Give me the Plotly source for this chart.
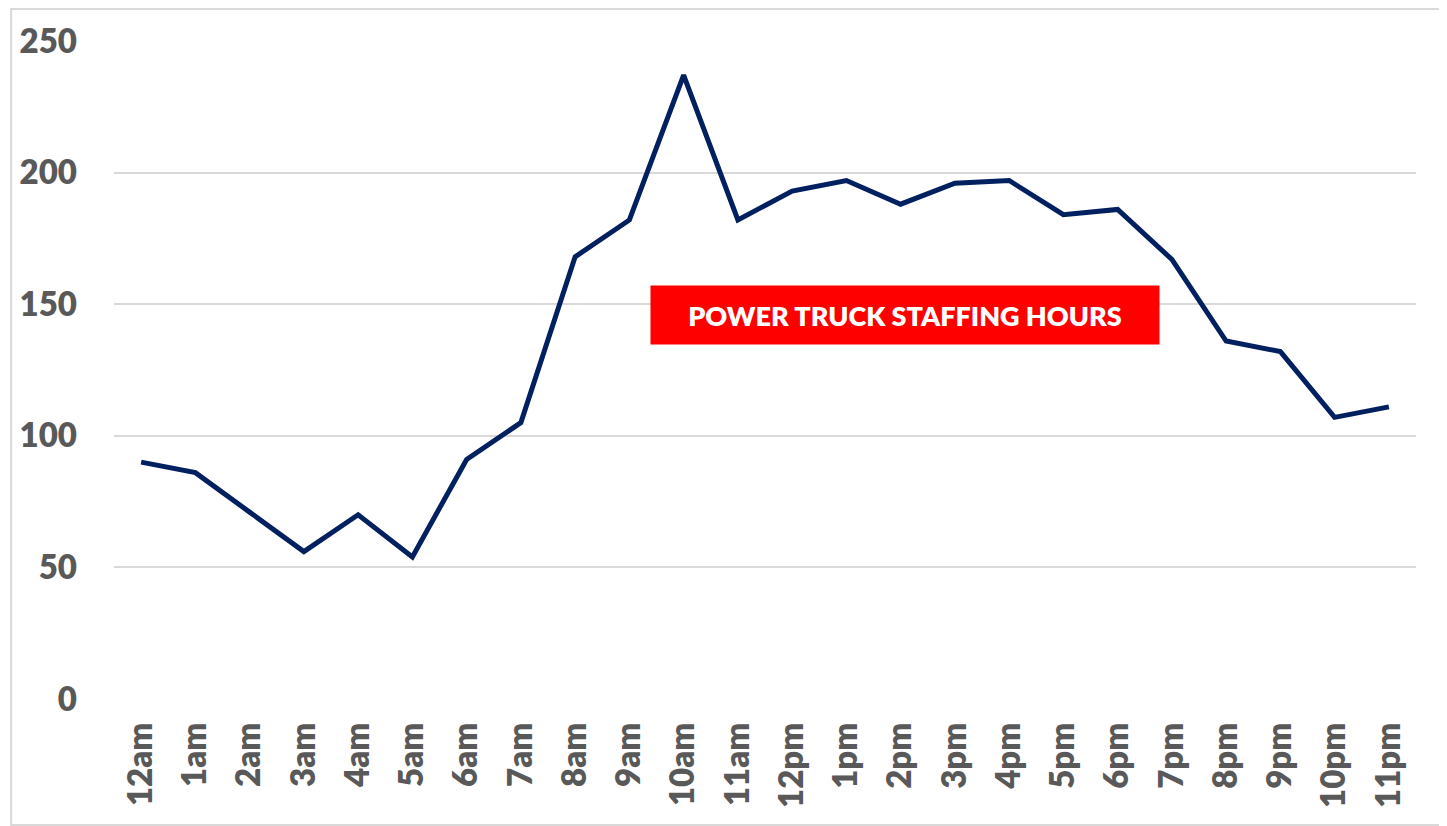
import plotly.graph_objects as go

hours = ["12am", "1am", "2am", "3am", "4am", "5am", "6am", "7am", "8am", "9am", "10am", "11am",
         "12pm", "1pm", "2pm", "3pm", "4pm", "5pm", "6pm", "7pm", "8pm", "9pm", "10pm", "11pm"]
staffing_hours = [90, 86, 71, 56, 70, 54, 91, 105, 168, 182, 237, 182,
                  193, 197, 188, 196, 197, 184, 186, 167, 136, 132, 107, 111]
y_ticks = [0, 50, 100, 150, 200, 250]
label_text = "POWER TRUCK STAFFING HOURS"

FONT = "Lato"
TXT = "#595959"

# page places the figure at (8, 8)
W, H = 1439, 818
L, T, R, B = 104, 33, 31, 127
PW, PH = W - L - R, H - T - B

fig = go.Figure()
fig.add_trace(go.Scatter(
    x=list(range(len(hours))), y=staffing_hours, mode="lines",
    line=dict(color="#002060", width=5), hoverinfo="skip", showlegend=False,
))

fig.update_layout(
    width=W, height=H,
    margin=dict(l=L, r=R, t=T, b=B),
    paper_bgcolor="white", plot_bgcolor="white",
    font=dict(family=FONT, color=TXT),
    xaxis=dict(
        range=[-0.5, len(hours) - 0.5], tickmode="array",
        tickvals=list(range(len(hours))), ticktext=hours, tickangle=-90,
        tickfont=dict(family=FONT, size=33, color=TXT, weight=800),
        showgrid=False, zeroline=False, showline=False, ticks="", ticklabelstandoff=16,
    ),
    yaxis=dict(
        range=[0, 250], tickmode="array", tickvals=y_ticks,
        tickfont=dict(family=FONT, size=33, color=TXT, weight=800),
        showgrid=True, gridcolor="#d9d9d9", gridwidth=2,
        zeroline=False, showline=False, ticks="", ticklabelstandoff=36,
    ),
    annotations=[dict(
        x=(904 - 8 - L) / PW, y=(699 - 315) / PH, xref="paper", yref="paper",
        text=label_text, showarrow=False,
        font=dict(family=FONT, size=27, color="white", weight=800),
        bgcolor="#ff0000", width=508, height=58, borderpad=0,
        xanchor="center", yanchor="middle",
    )],
    shapes=[dict(
        type="rect", xref="paper", yref="paper",
        x0=(1 - L) / PW, x1=(1435 - L) / PW,
        y0=(PH - (H - 1 - T)) / PH, y1=(PH + T - 1) / PH,
        line=dict(color="#d9d9d9", width=2), fillcolor="rgba(0,0,0,0)", layer="below",
    )],
)

fig.write_html("out.html")
